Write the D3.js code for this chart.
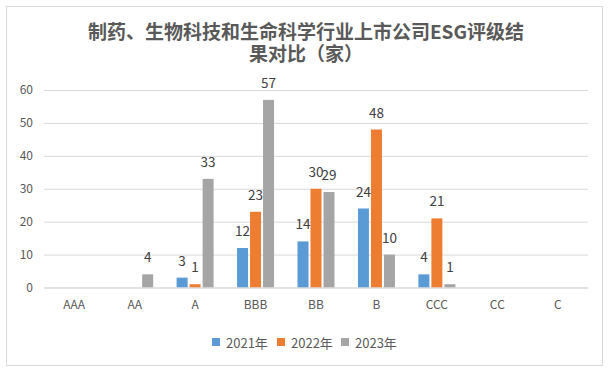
<!DOCTYPE html>
<html><head><meta charset="utf-8">
<script src="https://cdn.jsdelivr.net/npm/d3@7"></script>
<style>
html,body{margin:0;padding:0;background:#fff;}
svg{display:block;font-family:"Noto Sans CJK SC","Noto Sans",sans-serif;}
</style></head>
<body>
<svg id="chart" width="612" height="372"></svg>
<script>
const titleLines = ["制药、生物科技和生命科学行业上市公司ESG评级结", "果对比（家）"];
const categories = ["AAA", "AA", "A", "BBB", "BB", "B", "CCC", "CC", "C"];
const seriesNames = ["2021年", "2022年", "2023年"];
const values2021 = [0, 0, 3, 12, 14, 24, 4, 0, 0];
const values2022 = [0, 0, 1, 23, 30, 48, 21, 0, 0];
const values2023 = [0, 4, 33, 57, 29, 10, 1, 0, 0];
const yTicks = [0, 10, 20, 30, 40, 50, 60];
const colors = ["#5b9bd5", "#ed7d31", "#a5a5a5"];

const seriesValues = [values2021, values2022, values2023];
const svg = d3.select("#chart");

// outer border
svg.append("rect").attr("x", 6.5).attr("y", 6.5).attr("width", 596).attr("height", 359)
  .attr("fill", "#fff").attr("stroke", "#d9d9d9").attr("stroke-width", 1);

// title
svg.append("g").selectAll("text").data(titleLines).join("text")
  .attr("x", 306).attr("y", (d, i) => 30 + i * 22)
  .attr("text-anchor", "middle").attr("dominant-baseline", "central")
  .attr("font-size", 19).attr("font-weight", "bold").attr("fill", "#595959")
  .text(d => d);

const x0 = d3.scaleBand().domain(categories).range([44, 588]).paddingInner(0).paddingOuter(0);
const half = x0.bandwidth() / 2;
const x1 = d3.scaleBand().domain(seriesNames).range([half - 18.5, half + 18.5]).paddingInner(2 / 13).paddingOuter(0);
const y = d3.scaleLinear().domain([0, 60]).range([287.5, 90]);

// gridlines + y labels via axis
const yAxis = svg.append("g").attr("transform", "translate(44,0)")
  .call(d3.axisLeft(y).tickValues(yTicks).tickSize(-544).tickPadding(11));
yAxis.select(".domain").remove();
yAxis.selectAll(".tick line").attr("stroke", "#d9d9d9");
yAxis.selectAll(".tick text").attr("font-size", 12).attr("fill", "#595959")
  .attr("font-family", "'Noto Sans CJK SC','Noto Sans',sans-serif");

// bars
const groups = svg.append("g").selectAll("g").data(categories).join("g")
  .attr("transform", c => `translate(${x0(c)},0)`);

const rows = (c, ci) => seriesNames.map((s, si) => ({ s, si, v: seriesValues[si][ci] }));

groups.each(function (c, ci) {
  const g = d3.select(this);
  const data = rows(c, ci);
  g.selectAll("rect").data(data).join("rect")
    .attr("x", d => x1(d.s)).attr("width", x1.bandwidth())
    .attr("y", d => y(d.v)).attr("height", d => y(0) - y(d.v))
    .attr("fill", d => colors[d.si]);
  g.selectAll("text").data(data.filter(d => d.v > 0)).join("text")
    .attr("x", d => x1(d.s) + x1.bandwidth() / 2)
    .attr("y", d => y(d.v) - 18)
    .attr("text-anchor", "middle").attr("dominant-baseline", "central")
    .attr("font-size", 13.5).attr("fill", "#404040")
    .text(d => d.v);
});

// x axis
const xAxis = svg.append("g").attr("transform", "translate(0,287.5)")
  .call(d3.axisBottom(x0).tickSize(0).tickPadding(13));
xAxis.select(".domain").attr("stroke", "#d9d9d9");
xAxis.selectAll(".tick text").attr("font-size", 12).attr("fill", "#595959")
  .attr("font-family", "'Noto Sans CJK SC','Noto Sans',sans-serif");

// legend
const legendX = [212, 277, 341];
const lg = svg.append("g").selectAll("g").data(seriesNames).join("g")
  .attr("transform", (d, i) => `translate(${legendX[i]},342)`);
lg.append("rect").attr("x", 0).attr("y", -4).attr("width", 8).attr("height", 8)
  .attr("fill", (d, i) => colors[i]);
lg.append("text").attr("x", 14).attr("y", 0).attr("dominant-baseline", "central")
  .attr("font-size", 13).attr("fill", "#595959").text(d => d);
</script>
</body></html>
